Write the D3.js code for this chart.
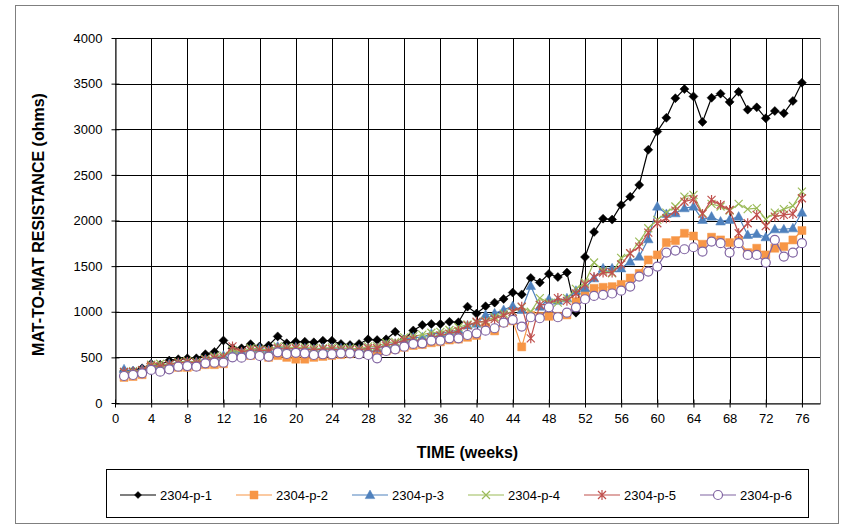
<!DOCTYPE html>
<html><head><meta charset="utf-8">
<script src="https://cdn.jsdelivr.net/npm/d3@7"></script>
<style>
body{margin:0;background:#fff}
svg{display:block}
text{font-family:"Liberation Sans",Arial,sans-serif;fill:#000}
</style>
</head><body>
<svg id="chart" width="852" height="525"></svg>
<script>
const weeks=[1,2,3,4,5,6,7,8,9,10,11,12,13,14,15,16,17,18,19,20,21,22,23,24,25,26,27,28,29,30,31,32,33,34,35,36,37,38,39,40,41,42,43,44,45,46,47,48,49,50,51,52,53,54,55,56,57,58,59,60,61,62,63,64,65,66,67,68,69,70,71,72,73,74,75,76];
const p1=[350,350,380,430,420,465,480,490,490,535,560,685,600,600,645,620,630,730,655,670,672,665,683,683,647,636,647,698,690,698,780,698,795,855,866,866,890,885,1056,980,1060,1100,1140,1210,1190,1370,1320,1415,1380,1430,990,1600,1875,2020,2010,2170,2260,2390,2775,2975,3125,3340,3440,3360,3080,3345,3390,3300,3410,3215,3240,3120,3200,3175,3310,3510];
const p2=[280,290,310,400,370,380,390,390,400,420,420,430,540,540,520,540,500,520,500,480,480,500,510,520,530,540,550,540,520,570,590,610,630,640,660,670,690,700,720,740,830,790,880,900,615,960,950,950,950,965,1110,1200,1257,1268,1275,1300,1370,1420,1568,1623,1758,1780,1860,1830,1740,1817,1787,1758,1780,1648,1696,1623,1696,1714,1787,1890];
const p3=[370,350,370,420,400,430,440,450,450,480,500,520,560,560,590,600,580,620,600,610,600,590,600,600,600,600,590,600,600,640,650,700,720,720,760,760,780,800,850,870,965,983,1020,1063,1020,1283,1056,1137,1122,1148,1231,1260,1367,1476,1476,1476,1550,1605,1795,2153,2072,2080,2135,2153,2007,2043,1990,2007,2043,1842,1853,1817,1904,1904,1915,2087];
const p4=[340,350,360,420,430,420,450,460,450,480,510,520,580,560,600,590,580,620,610,610,610,600,600,610,600,600,590,620,620,660,670,720,730,750,770,780,800,830,860,880,900,940,980,1000,1050,1000,1150,1100,1100,1150,1250,1320,1540,1450,1420,1590,1640,1769,1915,2007,2087,2153,2262,2281,2080,2182,2153,2110,2182,2124,2135,2014,2087,2124,2160,2317];
const p5=[340,340,360,410,400,420,440,450,440,470,490,500,620,560,580,580,570,600,590,600,590,580,590,590,580,580,580,600,600,630,650,690,700,660,720,740,760,790,850,890,890,920,960,1000,1056,709,1075,1080,1150,1120,1200,1300,1380,1430,1429,1520,1641,1714,1867,1970,2025,2108,2207,2233,2072,2226,2171,2116,1860,1970,2061,1940,2043,2061,2072,2244];
const p6=[296,307,325,362,343,369,398,405,398,435,442,442,501,497,526,515,508,555,537,550,544,526,534,534,544,544,534,526,490,570,588,617,647,654,683,683,709,709,745,764,793,819,880,910,837,940,929,1049,940,990,1049,1137,1173,1184,1200,1231,1276,1385,1440,1495,1648,1670,1685,1707,1659,1769,1751,1648,1751,1623,1623,1539,1787,1605,1648,1751];
const seriesNames=["2304-p-1","2304-p-2","2304-p-3","2304-p-4","2304-p-5","2304-p-6"];
const seriesColors=["#000000","#F79646","#4F81BD","#9BBB59","#C0504D","#8064A2"];
const seriesMarkers=["diamond","square","triangle","x","star","circle"];
const xTicks=[0,4,8,12,16,20,24,28,32,36,40,44,48,52,56,60,64,68,72,76];
const yTicks=[0,500,1000,1500,2000,2500,3000,3500,4000];
const xTitle="TIME (weeks)";
const yTitle="MAT-TO-MAT RESISTANCE (ohms)";

const allSeries=[p1,p2,p3,p4,p5,p6];
const svg=d3.select("#chart");
const L=115,R=820,T=38,B=403;
const x=d3.scaleLinear().domain([0,78]).range([L,R]);
const y=d3.scaleLinear().domain([0,4000]).range([B,T]);

// outer chart border
svg.append("rect").attr("x",15.5).attr("y",5.5).attr("width",823).attr("height",518)
  .attr("fill","#fff").attr("stroke","#7f7f7f").attr("stroke-width",1);

// plot border
svg.append("rect").attr("x",L+0.5).attr("y",T+0.5).attr("width",R-L).attr("height",B-T)
  .attr("fill","none").attr("stroke","#868686");

// gridlines
const g=svg.append("g");
g.selectAll(".hg").data(yTicks.filter(d=>d>0)).join("line")
  .attr("x1",L).attr("x2",R).attr("y1",d=>Math.round(y(d))+0.5).attr("y2",d=>Math.round(y(d))+0.5)
  .attr("stroke","#000").attr("stroke-width",1);
g.selectAll(".vg").data(xTicks.filter(d=>d>0)).join("line")
  .attr("y1",T).attr("y2",B).attr("x1",d=>Math.round(x(d))+0.5).attr("x2",d=>Math.round(x(d))+0.5)
  .attr("stroke","#000").attr("stroke-width",1);

// axes
const xAxis=d3.axisBottom(x).tickValues(xTicks).tickFormat(d3.format("d")).tickSize(0).tickPadding(8);
const yAxis=d3.axisLeft(y).tickValues(yTicks).tickFormat(d3.format("d")).tickSize(0).tickPadding(13);
const xa=svg.append("g").attr("transform",`translate(0,${B+0.5})`).call(xAxis);
const ya=svg.append("g").attr("transform",`translate(${L+0.5},0)`).call(yAxis);
[xa,ya].forEach(a=>{a.select(".domain").attr("stroke","#000");a.selectAll("text").attr("font-size",13).attr("font-family","Liberation Sans, Arial, sans-serif").attr("fill","#000");});
xa.selectAll(".tick").append("line").attr("y1",-4).attr("y2",4).attr("stroke","#000");
ya.selectAll(".tick").append("line").attr("x1",-4).attr("x2",4).attr("stroke","#000");
xa.selectAll(".tick text").attr("dy","0.9em");

// titles
svg.append("text").attr("x",(L+R)/2).attr("y",458).attr("text-anchor","middle")
  .attr("font-size",16).attr("font-weight","bold").text(xTitle);
svg.append("text").attr("transform",`translate(44,${(T+B)/2+4}) rotate(-90)`).attr("text-anchor","middle")
  .attr("font-size",16).attr("font-weight","bold").text(yTitle);

function markerPath(type){
  switch(type){
    case "diamond": return "M0,-4.5L4.5,0L0,4.5L-4.5,0Z";
    case "square": return "M-4,-4H4V4H-4Z";
    case "triangle": return "M0,-5L4.8,3.6L-4.8,3.6Z";
    case "x": return "M-4,-4L4,4M-4,4L4,-4";
    case "star": return "M-4,-4L4,4M-4,4L4,-4M0,-5L0,5";
    case "circle": return "M4.5,0A4.5,4.5 0 1,1 -4.5,0A4.5,4.5 0 1,1 4.5,0Z";
  }
}
function styleMarker(sel,i){
  const t=seriesMarkers[i],c=seriesColors[i];
  sel.attr("d",markerPath(t));
  if(t==="x"||t==="star"){sel.attr("fill","none").attr("stroke",c).attr("stroke-width",1.2);}
  else if(t==="circle"){sel.attr("fill","#fff").attr("stroke",c).attr("stroke-width",1.2);}
  else {sel.attr("fill",c).attr("stroke",c).attr("stroke-width",0.5);}
}

const line=d3.line().x((d,i)=>x(weeks[i])).y(d=>y(d));
const plot=svg.append("g");
allSeries.forEach((s,i)=>{
  const sg=plot.append("g");
  sg.append("path").datum(s).attr("d",line).attr("fill","none").attr("stroke",seriesColors[i]).attr("stroke-width",1.2);
  sg.selectAll("path.m").data(s).join("path").attr("class","m")
    .attr("transform",(d,j)=>`translate(${x(weeks[j])},${y(d)})`)
    .call(sel=>styleMarker(sel,i));
});

// legend
const lg=svg.append("g");
lg.append("rect").attr("x",106.5).attr("y",469.5).attr("width",702).attr("height",48)
  .attr("fill","#fff").attr("stroke","#000");
seriesNames.forEach((n,i)=>{
  const x0=120+i*116, yy=495;
  const it=lg.append("g");
  it.append("line").attr("x1",x0).attr("x2",x0+36).attr("y1",yy).attr("y2",yy).attr("stroke",seriesColors[i]).attr("stroke-width",1.2);
  const m=it.append("path").attr("transform",`translate(${x0+18},${yy})`);
  styleMarker(m,i);
  if(seriesMarkers[i]==="diamond") m.attr("d","M0,-3.5L3.5,0L0,3.5L-3.5,0Z");
  it.append("text").attr("x",x0+40).attr("y",yy).attr("dy","0.35em").attr("font-size",13).text(n);
});
</script>
</body></html>
